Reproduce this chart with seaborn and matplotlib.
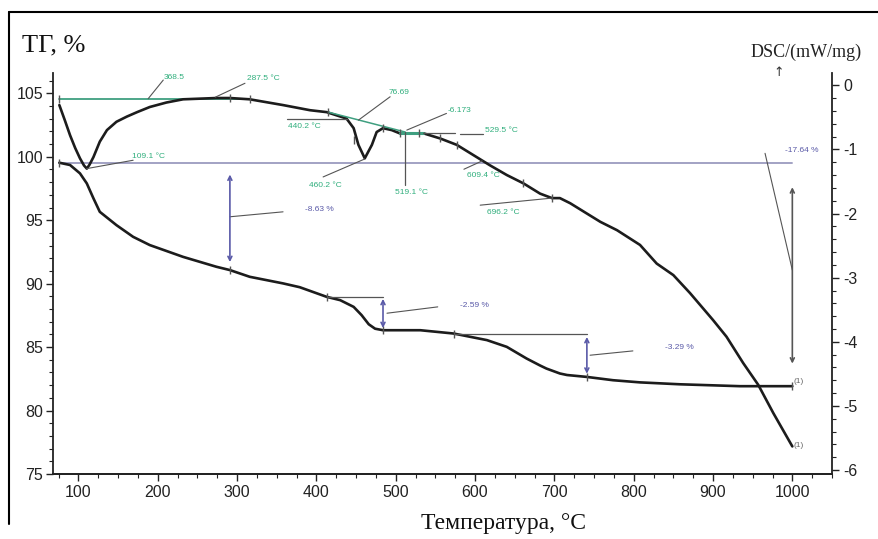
import matplotlib
matplotlib.use("Agg")
import matplotlib.pyplot as plt
import seaborn as sns
import pandas as pd
from matplotlib.ticker import MultipleLocator
from matplotlib.lines import Line2D

# ---------------- data ----------------
tg_temp = [76, 89.5, 102, 110.6, 119, 127, 148, 169, 190, 232, 274, 291, 316, 358, 379,
           413, 430, 447, 457, 466, 474, 484, 531, 573, 615, 640, 665, 682, 690, 707, 716,
           741, 774, 808, 858, 934, 1000]
tg_vals = [99.53, 99.35, 98.69, 97.90, 96.72, 95.66, 94.61, 93.69, 93.04, 92.11, 91.33, 91.07,
           90.54, 90.02, 89.72, 88.96, 88.70, 88.17, 87.52, 86.80, 86.45, 86.33, 86.33, 86.07,
           85.55, 85.02, 84.10, 83.55, 83.31, 82.92, 82.80, 82.65, 82.39, 82.22, 82.07, 81.92, 81.92]

dsc_temp = [76, 83, 89.5, 96, 102, 107, 110.6, 114, 119, 127, 136, 148, 161, 174, 190, 211,
            232, 253, 274, 291, 316, 358, 392, 413, 438, 447, 453, 461, 470, 476, 484, 495,
            505, 535, 556, 577, 598, 619, 640, 661, 682, 697, 707, 720, 737, 758, 779, 808,
            829, 850, 871, 900, 917, 938, 957, 976, 1000]
dsc_vals = [-0.31, -0.55, -0.78, -0.98, -1.14, -1.25, -1.30, -1.24, -1.12, -0.88, -0.70, -0.57,
            -0.49, -0.42, -0.34, -0.27, -0.22, -0.21, -0.20, -0.20, -0.22, -0.31, -0.39, -0.42,
            -0.52, -0.67, -0.93, -1.14, -0.93, -0.73, -0.67, -0.70, -0.75, -0.75, -0.83, -0.93,
            -1.09, -1.25, -1.40, -1.53, -1.69, -1.76, -1.76, -1.84, -1.97, -2.13, -2.26, -2.49,
            -2.78, -2.96, -3.24, -3.66, -3.92, -4.33, -4.67, -5.11, -5.63]

tg_ticks = [75, 80, 85, 90, 95, 100, 105]
dsc_ticks = [-6, -5, -4, -3, -2, -1, 0]
x_ticks = [100, 200, 300, 400, 500, 600, 700, 800, 900, 1000]

step_labels = ["-8.63 %", "-2.59 %", "-3.29 %", "-17.64 %"]
peak_labels = ["109.1 °C", "287.5 °C", "368.5", "440.2 °C", "460.2 °C", "76.69",
               "519.1 °C", "-6.173", "529.5 °C", "609.4 °C", "696.2 °C"]

tg_df = pd.DataFrame({"T": tg_temp, "TG": tg_vals})
dsc_df = pd.DataFrame({"T": dsc_temp, "DSC": dsc_vals})

# ---------------- style ----------------
sns.set_theme(style="white")
plt.rcParams["font.family"] = ["Liberation Sans", "DejaVu Sans"]
plt.rcParams["axes.unicode_minus"] = False

W, H = 879, 539
fig = plt.figure(figsize=(W / 100, H / 100), dpi=100)
ax = fig.add_axes([53 / W, (H - 474) / H, 779 / W, 401 / H])
ax2 = ax.twinx()

CURVE = "#1c1c1c"
GREEN = "#2fae7c"
GLINE = "#3f9f80"
VIOL = "#5a5aa8"
GREY = "#555555"

sns.lineplot(data=tg_df, x="T", y="TG", ax=ax, color=CURVE, lw=1.9, estimator=None, sort=False)
sns.lineplot(data=dsc_df, x="T", y="DSC", ax=ax2, color=CURVE, lw=1.9, estimator=None, sort=False)

ax.set_xlim(68, 1050)
ax.set_ylim(75, 106.6)
ax2.set_ylim(-6.06, 0.19)
ax.set_xticks(x_ticks)
ax.set_yticks(tg_ticks)
ax2.set_yticks(dsc_ticks)
ax.xaxis.set_minor_locator(MultipleLocator(25))
ax.yaxis.set_minor_locator(MultipleLocator(1))
ax2.yaxis.set_minor_locator(MultipleLocator(0.2))
ax.set_xlabel("")
ax.set_ylabel("")
ax2.set_ylabel("")

for a in (ax, ax2):
    a.spines["top"].set_visible(False)
    for s in ("left", "right", "bottom"):
        a.spines[s].set_color("#222222")
        a.spines[s].set_linewidth(1.3)
    a.tick_params(which="major", direction="out", length=5, width=1.0, colors="#222222",
                  labelsize=11.5, labelcolor="#222222")
    a.tick_params(which="minor", direction="out", length=3, width=0.8, colors="#222222")
ax.tick_params(axis="x", which="both", bottom=True, pad=3)
ax.tick_params(axis="y", which="both", left=True, right=False, pad=2)
ax2.tick_params(axis="y", which="both", right=True, left=False, pad=3)
ax2.spines["left"].set_visible(False)
ax.spines["right"].set_visible(False)

# ---------------- TG annotations ----------------
ax.plot([76, 1000], [99.53, 99.53], color="#a2a2c4", lw=1.4, zorder=1)
tg_marks_x = [76, 291, 413, 484, 573, 741, 1000]
tg_marks_y = [99.53, 91.07, 88.96, 86.33, 86.07, 82.65, 81.92]
ax.plot(tg_marks_x, tg_marks_y, ls="none", marker="|", ms=6, mew=1, color=GREY)

arr = dict(arrowstyle="<->", color=VIOL, lw=1.2, shrinkA=0, shrinkB=0, mutation_scale=7)
# step 1
ax.annotate("", xy=(291, 91.7), xytext=(291, 98.6), arrowprops=arr)
ax.plot([291, 358], [95.27, 95.66], color=GREY, lw=0.8)
ax.text(386, 95.88, step_labels[0], color=VIOL, fontsize=6, va="center", ha="left")
# step 2
ax.plot([413, 484], [88.96, 88.96], color=GREY, lw=0.9)
ax.annotate("", xy=(484, 86.5), xytext=(484, 88.8), arrowprops=arr)
ax.plot([489, 553], [87.67, 88.17], color=GREY, lw=0.8)
ax.text(581, 88.3, step_labels[1], color=VIOL, fontsize=6, va="center", ha="left")
# step 3
ax.plot([573, 741], [86.07, 86.07], color=GREY, lw=0.9)
ax.annotate("", xy=(741, 82.9), xytext=(741, 85.8), arrowprops=arr)
ax.plot([745, 799], [84.36, 84.7], color=GREY, lw=0.8)
ax.text(839.5, 85.0, step_labels[2], color=VIOL, fontsize=6, va="center", ha="left")
# total
arr2 = dict(arr, color=GREY)
ax.annotate("", xy=(1000, 83.7), xytext=(1000, 97.6), arrowprops=arr2)
ax.plot([1000, 965.6], [91.07, 100.27], color=GREY, lw=0.8)
ax.text(990.7, 100.47, step_labels[3], color=VIOL, fontsize=6, va="center", ha="left")
ax.text(1002, 82.26, "(1)", color="#666666", fontsize=6, va="center", ha="left")
ax.text(1002, 77.26, "(1)", color="#666666", fontsize=6, va="center", ha="left")

# ---------------- DSC annotations ----------------
ax2.plot([76, 316], [-0.21, -0.21], color=GLINE, lw=1.3, zorder=1)
ax2.plot([415, 512], [-0.42, -0.73], color=GLINE, lw=1.1)
ax2.plot([505, 535], [-0.75, -0.75], color=GLINE, lw=2.2)
dsc_marks_x = [76, 291, 316, 415, 447, 484, 506, 530, 556, 577, 661, 697]
dsc_marks_y = [-0.21, -0.20, -0.22, -0.42, -0.86, -0.67, -0.75, -0.75, -0.83, -0.93, -1.53, -1.76]
ax2.plot(dsc_marks_x, dsc_marks_y, ls="none", marker="|", ms=6, mew=1, color=GREY)

def lead(p, q):
    ax2.plot([p[0], q[0]], [p[1], q[1]], color=GREY, lw=0.8)

def lab(x, y, s, ha="left"):
    ax2.text(x, y, s, color=GREEN, fontsize=6, va="center", ha=ha)

lead((110.6, -1.30), (169, -1.17)); lab(167, -1.11, peak_labels[0])
lead((272.6, -0.187), (310, 0.03)); lab(312.6, 0.11, peak_labels[1])
lead((188, -0.21), (207, 0.08)); lab(207, 0.125, peak_labels[2])
ax2.plot([363, 439], [-0.52, -0.52], color=GREY, lw=0.9); lab(364.6, -0.65, peak_labels[3])
lead((461, -1.15), (408.5, -1.43)); lab(411.6, -1.56, peak_labels[4], ha="center")
lead((453, -0.545), (493, -0.18)); lab(491, -0.11, peak_labels[5])
ax2.plot([511.8, 511.8], [-0.727, -1.56], color=GREY, lw=0.9); lab(520, -1.67, peak_labels[6], ha="center")
lead((514, -0.70), (564, -0.44)); lab(565, -0.39, peak_labels[7])
ax2.plot([535, 575], [-0.74, -0.74], color=GREY, lw=0.9)
ax2.plot([581, 610], [-0.76, -0.76], color=GREY, lw=0.9); lab(612.6, -0.70, peak_labels[8])
lead((609, -1.18), (586, -1.31)); lab(590, -1.40, peak_labels[9])
lead((696.7, -1.76), (606.5, -1.87)); lab(615, -1.99, peak_labels[10])

# ---------------- titles & frame ----------------
fig.text(22 / W, 1 - 45 / H, "ТГ, %", family=["Liberation Serif", "DejaVu Serif"], fontsize=19,
         ha="left", va="center", color="#111111")
fig.text(806 / W, 1 - 52 / H, "DSC/(mW/mg)", family=["Liberation Serif", "DejaVu Serif"],
         fontsize=13, ha="center", va="center", color="#222222")
fig.text(779 / W, 1 - 73 / H, "↑", family=["DejaVu Sans"], fontsize=9, ha="center",
         va="center", color="#333333")
fig.text(504 / W, 1 - 523 / H, "Температура, °C", family=["Liberation Serif", "DejaVu Serif"],
         fontsize=17, ha="center", va="center", color="#111111")

fig.add_artist(Line2D([9 / W, 9 / W], [1 - 12 / H, 1 - 524 / H], color="black", lw=1.5))
fig.add_artist(Line2D([9 / W, 1.0], [1 - 12 / H, 1 - 12 / H], color="black", lw=1.5))

fig.savefig("out.png", dpi=100)
